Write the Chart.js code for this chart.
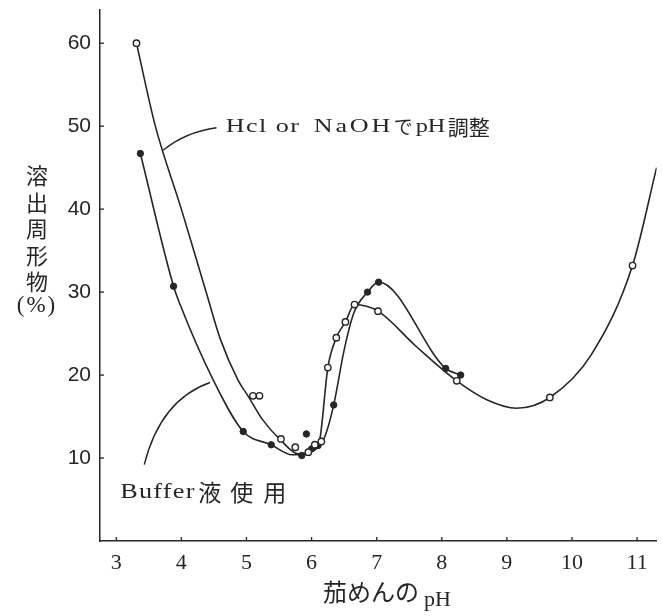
<!DOCTYPE html>
<html>
<head>
<meta charset="utf-8">
<script src="https://cdn.jsdelivr.net/npm/chart.js@4.4.0/dist/chart.umd.min.js"></script>
<style>
  body { margin: 0; background: #fff; }
</style>
</head>
<body>
<canvas id="myChart" width="662" height="616"></canvas>
<script>
// curve (pH, %)
const hclCurveX = [3.31, 3.6, 4.0, 4.38, 4.6, 4.87, 5.03, 5.25, 5.52, 5.8, 6.0, 6.12, 6.25, 6.38, 6.52, 6.66, 7.02, 7.6, 8.23, 8.7, 9.15, 9.66, 10.3, 10.93, 11.3];
const hclCurveY = [60, 50, 40, 30, 24.3, 19.4, 17.4, 14.6, 12.2, 10.5, 10.8, 12, 20.9, 24.5, 26.4, 28.5, 27.7, 23.5, 19.3, 17, 16, 17.3, 22.5, 33.2, 45];
const bufCurveX = [3.37, 3.88, 3.98, 4.49, 4.95, 5.38, 5.7, 5.9, 6.1, 6.2, 6.34, 6.5, 6.65, 6.86, 7.03, 8.06, 8.29];
const bufCurveY = [46.7, 30.7, 28.5, 19.4, 13.2, 11.6, 10.4, 10.5, 11.5, 12.5, 16.4, 23, 27.5, 30, 31.2, 20.8, 20];

// measured points
const hclPhX = [3.31, 5.1, 5.2, 5.53, 5.75, 5.95, 6.05, 6.15, 6.25, 6.38, 6.52, 6.66, 7.02, 8.23, 9.66, 10.93];
const hclPhY = [60, 17.5, 17.5, 12.3, 11.3, 10.7, 11.6, 12.0, 20.9, 24.5, 26.4, 28.5, 27.7, 19.3, 17.3, 33.2];
const bufPhX = [3.37, 3.88, 4.95, 5.38, 5.85, 5.92, 6.0, 6.1, 6.34, 6.86, 7.03, 8.06, 8.29];
const bufPhY = [46.7, 30.7, 13.2, 11.6, 10.3, 12.9, 11.1, 11.5, 16.4, 30.0, 31.2, 20.8, 20.0];

const xTicks = [3, 4, 5, 6, 7, 8, 9, 10, 11];
const yTicks = [0, 10, 20, 30, 40, 50, 60];

const ink = '#262626';

function pts(xs, ys) {
    return xs.map((x, i) => ({ x: x, y: ys[i] }));
}

// draw text stretched horizontally
function wide(c, txt, x, y, sx) {
    c.save();
    c.translate(x, y);
    c.scale(sx, 1);
    c.fillText(txt, 0, 0);
    c.restore();
}

const decor = {
    id: 'decor',
    afterDraw(chart) {
        const c = chart.ctx;
        const xs = chart.scales.x, ys = chart.scales.y;
        const a = chart.chartArea;
        c.save();
        c.strokeStyle = ink;
        c.fillStyle = ink;
        c.lineWidth = 1.3;

        // small inward ticks
        xTicks.forEach(v => {
            const px = xs.getPixelForValue(v);
            c.beginPath(); c.moveTo(px, a.bottom); c.lineTo(px, a.bottom - 4); c.stroke();
        });
        yTicks.forEach(v => {
            if (!v) return;
            const py = ys.getPixelForValue(v);
            c.beginPath(); c.moveTo(a.left, py); c.lineTo(a.left + 4, py); c.stroke();
        });

        // leader lines
        c.lineWidth = 1.4;
        c.beginPath();
        c.moveTo(xs.getPixelForValue(3.72), ys.getPixelForValue(47.1));
        c.quadraticCurveTo(xs.getPixelForValue(4.07), ys.getPixelForValue(49.3), xs.getPixelForValue(4.54), ys.getPixelForValue(49.8));
        c.stroke();
        c.beginPath();
        c.moveTo(xs.getPixelForValue(3.43), ys.getPixelForValue(9.2));
        c.quadraticCurveTo(xs.getPixelForValue(3.68), ys.getPixelForValue(17.0), xs.getPixelForValue(4.44), ys.getPixelForValue(19.1));
        c.stroke();

        // label: Hcl or NaOHでpH調整
        c.textBaseline = 'middle';
        c.textAlign = 'left';
        let tx = xs.getPixelForValue(4.68), ty = ys.getPixelForValue(49.9);
        c.font = '18px "Liberation Serif"';
        c.letterSpacing = '1px';
        wide(c, 'Hcl', tx, ty, 1.45);
        wide(c, 'or', tx + 50, ty, 1.45);
        c.letterSpacing = '2px';
        wide(c, 'NaOH', tx + 88, ty, 1.45);
        c.letterSpacing = '0px';
        c.font = '19px "Noto Sans CJK JP"';
        c.fillText('で', tx + 168, ty);
        c.font = '18px "Liberation Serif"';
        wide(c, 'pH', tx + 190, ty, 1.35);
        c.font = '21px "Noto Sans CJK JP"';
        c.fillText('調整', tx + 222, ty);

        // label: Buffer液 使 用
        tx = xs.getPixelForValue(3.06); ty = ys.getPixelForValue(5.9);
        c.font = '21px "Liberation Serif"';
        c.letterSpacing = '1px';
        wide(c, 'Buffer', tx, ty, 1.25);
        c.letterSpacing = '0px';
        c.font = '23px "Noto Sans CJK JP"';
        c.fillText('液', tx + 78, ty);
        c.fillText('使', tx + 110, ty);
        c.fillText('用', tx + 143, ty);

        // y title, stacked
        c.textAlign = 'center';
        c.font = '22px "Noto Sans CJK JP"';
        const yc = ['溶', '出', '周', '形', '物'];
        const cx = a.left - 63;
        yc.forEach((ch, i) => c.fillText(ch, cx, 176 + i * 26.5));
        c.font = '23px "Liberation Serif"';
        c.letterSpacing = '2px';
        c.fillText('(%)', cx, 306);
        c.letterSpacing = '0px';

        // x title
        c.textAlign = 'left';
        c.font = '24px "Noto Sans CJK JP"';
        c.fillText('茄めんの', 323, 592);
        c.font = '22px "Liberation Serif"';
        c.fillText('pH', 424, 600);
        c.restore();
    }
};

const ctx = document.getElementById('myChart').getContext('2d');
const myChart = new Chart(ctx, {
    type: 'line',
    data: {
        datasets: [
            {
                data: pts(hclPhX, hclPhY), showLine: false, order: 0,
                pointRadius: 3.2, pointBackgroundColor: '#fff', pointBorderColor: ink, pointBorderWidth: 1.4
            },
            {
                data: pts(bufPhX, bufPhY), showLine: false, order: 0,
                pointRadius: 3.2, pointBackgroundColor: ink, pointBorderColor: ink, pointBorderWidth: 1
            },
            {
                data: pts(hclCurveX, hclCurveY), order: 1, borderColor: ink, borderWidth: 1.6,
                pointRadius: 0, cubicInterpolationMode: 'monotone', fill: false
            },
            {
                data: pts(bufCurveX, bufCurveY), order: 1, borderColor: ink, borderWidth: 1.6,
                pointRadius: 0, cubicInterpolationMode: 'monotone', fill: false
            }
        ]
    },
    options: {
        responsive: false,
        animation: false,
        layout: { padding: { top: 10, right: 0, left: 0, bottom: 0 } },
        plugins: { legend: { display: false }, tooltip: { enabled: false } },
        scales: {
            x: {
                type: 'linear', min: 2.75, max: 11.3,
                afterBuildTicks: s => { s.ticks = xTicks.map(v => ({ value: v })); },
                afterFit: s => { s.height = 75; },
                grid: { display: false, drawTicks: false },
                border: { display: true, color: ink, width: 1.5 },
                ticks: { color: ink, padding: 9, maxRotation: 0, autoSkip: false, font: { family: 'Liberation Serif', size: 22 } }
            },
            y: {
                type: 'linear', min: 0, max: 64,
                afterBuildTicks: s => { s.ticks = yTicks.map(v => ({ value: v })); },
                afterFit: s => { s.width = 100; s.paddingTop = 0; s.paddingBottom = 0; },
                grid: { display: false, drawTicks: false },
                border: { display: true, color: ink, width: 1.5 },
                ticks: {
                    color: ink, padding: 9, autoSkip: false, font: { family: 'Liberation Sans', size: 21 },
                    callback: v => (v === 0 ? '' : v)
                }
            }
        }
    },
    plugins: [decor]
});
</script>
</body>
</html>
